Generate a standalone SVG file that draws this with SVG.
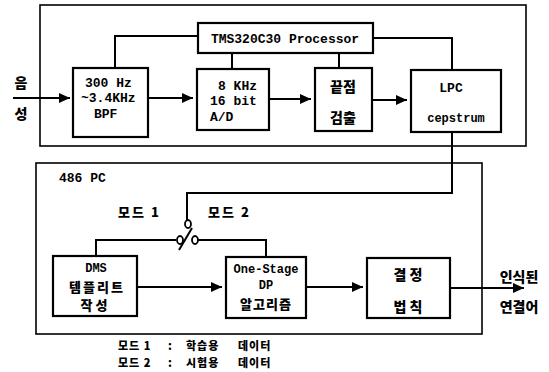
<svg xmlns="http://www.w3.org/2000/svg" width="549" height="372" viewBox="0 0 549 372">
<defs>
<marker id="ah" markerUnits="userSpaceOnUse" markerWidth="12" markerHeight="10" refX="11" refY="5" orient="auto">
<path d="M0,0 L11,5 L0,10 Z" fill="#000"/>
</marker>
<style>
.box{fill:#fff;stroke:#000;stroke-width:2.2}
.frame{fill:none;stroke:#000;stroke-width:1.6}
.ln{fill:none;stroke:#000;stroke-width:2}
.arr{fill:none;stroke:#000;stroke-width:2;marker-end:url(#ah)}
.en{font-family:"Liberation Mono","DejaVu Sans Mono",monospace;font-weight:bold;font-size:13px;fill:#000}
.ko{font-family:"Noto Sans CJK KR","Noto Sans",sans-serif;font-weight:900;font-size:14px;fill:#000}
.c{text-anchor:middle}
.lg{font-size:11px;letter-spacing:1px}
.sm{font-size:12px}
</style>
</defs>
<rect width="549" height="372" fill="#fff"/>

<g id="frames">
<rect class="frame" x="40" y="5" width="486" height="141"/>
<rect class="frame" x="36" y="163" width="446" height="171"/>
<text class="en" x="59" y="182">486 PC</text>
</g>

<g id="connectors">
<polyline class="ln" points="115,68 115,36 198,36"/>
<polyline class="ln" points="373,38 452,38 452,70"/>
<line class="ln" x1="232" y1="53" x2="232" y2="69"/>
<line class="ln" x1="339" y1="53" x2="339" y2="68"/>
<line class="arr" x1="13" y1="98" x2="70" y2="98"/>
<line class="arr" x1="148" y1="98" x2="193" y2="98"/>
<line class="arr" x1="269" y1="99" x2="311" y2="99"/>
<line class="arr" x1="372" y1="100" x2="407" y2="100"/>
<polyline class="ln" points="452,132 452,193 187,193 187,220"/>
<polyline class="ln" points="176,240 96,240 96,256"/>
<polyline class="ln" points="198,240 266,240 266,257"/>
<line class="ln" x1="179" y1="250" x2="192" y2="228"/>
<ellipse cx="188" cy="224" rx="3" ry="4" fill="#fff" stroke="#000" stroke-width="1.8"/>
<ellipse cx="180" cy="240" rx="3" ry="4" fill="#fff" stroke="#000" stroke-width="1.8"/>
<ellipse cx="195" cy="240" rx="3" ry="4" fill="#fff" stroke="#000" stroke-width="1.8"/>
<line class="arr" x1="137" y1="287" x2="222" y2="287"/>
<line class="arr" x1="306" y1="287" x2="363" y2="287"/>
<line class="arr" x1="450" y1="288" x2="524" y2="288"/>
</g>

<g id="input-label">
<text class="ko c" x="21" y="88">음</text>
<text class="ko c" x="21" y="119">성</text>
</g>

<g id="processor">
<rect class="box" x="198" y="23" width="175" height="30"/>
<text class="en c" x="285" y="43">TMS320C30 Processor</text>
</g>

<g id="bpf">
<rect class="box" x="73" y="68" width="75" height="69"/>
<text class="en" x="85" y="87">300 Hz</text>
<text class="en" x="81" y="102">~3.4KHz</text>
<text class="en" x="94" y="118">BPF</text>
</g>

<g id="ad">
<rect class="box" x="197" y="69" width="72" height="61"/>
<text class="en" x="218" y="90">8 KHz</text>
<text class="en" x="210" y="105">16 bit</text>
<text class="en" x="210" y="121">A/D</text>
</g>

<g id="endpoint">
<rect class="box" x="315" y="68" width="57" height="63"/>
<text class="ko c" x="343" y="92">끝점</text>
<text class="ko c" x="343" y="123">검출</text>
</g>

<g id="lpc">
<rect class="box" x="411" y="70" width="90" height="62"/>
<text class="en c" x="451" y="92">LPC</text>
<text class="en c" x="456" y="122" style="font-size:12px">cepstrum</text>
</g>

<g id="modes">
<text class="ko" x="118" y="217" style="font-size:13px;letter-spacing:2px">모드 1</text>
<text class="ko" x="208" y="217" style="font-size:13px;letter-spacing:2px">모드 2</text>
</g>

<g id="dms">
<rect class="box" x="53" y="256" width="84" height="60"/>
<text class="en c sm" x="96" y="272">DMS</text>
<text class="ko c" x="97" y="292" style="font-size:13px;letter-spacing:2px">템플리트</text>
<text class="ko c" x="94" y="310" style="font-size:13px">작 성</text>
</g>

<g id="onestage">
<rect class="box" x="226" y="257" width="80" height="61"/>
<text class="en c sm" x="266" y="273">One-Stage</text>
<text class="en c sm" x="266" y="289">DP</text>
<text class="ko c" x="266" y="309" style="font-size:13px;letter-spacing:1px">알고리즘</text>
</g>

<g id="decision">
<rect class="box" x="367" y="258" width="83" height="60"/>
<text class="ko c" x="408" y="280">결 정</text>
<text class="ko c" x="408" y="312">법 칙</text>
</g>

<g id="output-label">
<text class="ko c" x="519" y="282">인식된</text>
<text class="ko c" x="519" y="312">연결어</text>
</g>

<g id="legend">
<text class="ko lg" x="118" y="350">모드 1<tspan x="168">:</tspan><tspan x="186">학습용</tspan><tspan x="238">데이터</tspan></text>
<text class="ko lg" x="118" y="367">모드 2<tspan x="168">:</tspan><tspan x="186">시험용</tspan><tspan x="238">데이터</tspan></text>
</g>
</svg>
